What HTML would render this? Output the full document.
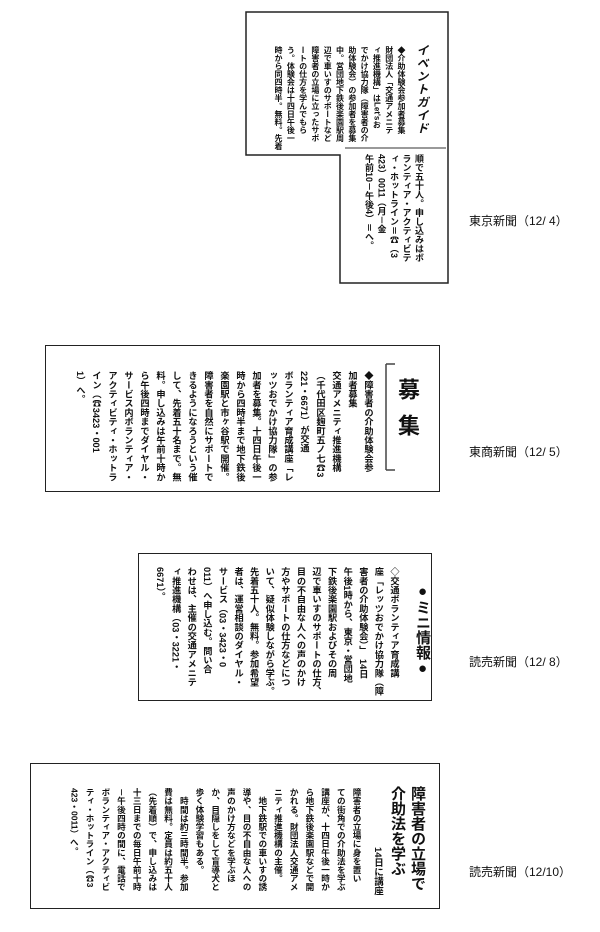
<!DOCTYPE html>
<html><head><meta charset="utf-8"><style>
body{margin:0;width:600px;height:932px;background:#fff;position:relative;overflow:hidden;font-family:"Liberation Sans","Noto Sans CJK JP",sans-serif;color:#111}
.v{position:absolute;writing-mode:vertical-rl;white-space:nowrap;font-weight:bold}
.b{position:absolute;border:1.5px solid #222;box-sizing:border-box}
.lab{position:absolute;font-size:12px;color:#111;font-family:"Liberation Sans","Noto Sans CJK JP",sans-serif}
</style></head><body>
<svg style="position:absolute;left:0;top:0" width="600" height="932">
<polygon points="246,12 448,12 448,283 340,283 340,155 246,155" fill="none" stroke="#222" stroke-width="1.5"/>
<line x1="345" y1="148" x2="446" y2="148" stroke="#333" stroke-width="1"/>
<line x1="386" y1="364" x2="386" y2="470" stroke="#444" stroke-width="1.5"/>
<line x1="386" y1="364" x2="395" y2="364" stroke="#444" stroke-width="1.5"/>
<line x1="386" y1="470" x2="395" y2="470" stroke="#444" stroke-width="1.5"/>
</svg>
<div class="v" style="right:170px;top:44px;font-size:12px;font-style:italic;line-height:16px;letter-spacing:1px">イベントガイド</div>
<div class="v" style="right:193px;top:46px;font-size:8px;line-height:12.3px">◆介助体験会参加者募集<br>財団法人「交通アメニテ<br>ィ推進機構」はLet'sお<br>でかけ協力隊（障害者の介<br>助体験会）の参加者を募集<br>中。営団地下鉄後楽園駅周<br>辺で車いすのサポートなど<br>障害者の立場に立ったサポ<br>ートの仕方を学んでもら<br>う。体験会は十四日午後一<br>時から同四時半。無料。先着</div>
<div class="v" style="right:175px;top:154px;font-size:9px;line-height:12.5px">順で五十人。申し込みはボ<br>ランティア・アクティビテ<br>ィ・ホットライン＝☎（3<br>423）0011（月－金<br>午前10－午後4）＝へ。</div>

<div class="b" style="left:45px;top:345px;width:395px;height:147px"></div>
<div class="v" style="right:180px;top:378px;font-size:22px;line-height:26px;letter-spacing:14px">募集</div>
<div class="v" style="right:224px;top:371px;font-size:9.2px;line-height:16px">◆障害者の介助体験会参<br>加者募集<br>交通アメニティ推進機構<br>（千代田区麹町五ノ七☎3<br>221・6671）が交通<br>ボランティア育成講座「レ<br>ッツおでかけ協力隊」の参<br>加者を募集。十四日午後一<br>時から四時半まで地下鉄後<br>楽園駅と市ヶ谷駅で開催。<br>障害者を自然にサポートで<br>きるようになろうという催<br>して、先着五十名まで。無<br>料。申し込みは午前十時か<br>ら午後四時までダイヤル・<br>サービス内ボランティア・<br>アクティビティ・ホットラ<br>イン（☎3423・001<br>1）へ。</div>

<div class="b" style="left:138px;top:553px;width:294px;height:148px"></div>
<div class="v" style="right:168px;top:583px;font-size:15px;line-height:20px">●ミニ情報●</div>
<div class="v" style="right:199px;top:567px;font-size:9.2px;line-height:15.6px">◇交通ボランティア育成講<br>座「レッツおでかけ協力隊（障<br>害者の介助体験会）」　14日<br>午後1時から、東京・営団地<br>下鉄後楽園駅およびその周<br>辺で車いすのサポートの仕方、<br>目の不自由な人への声のかけ<br>方やサポートの仕方などにつ<br>いて、疑似体験しながら学ぶ。<br>先着五十人。無料。参加希望<br>者は、運営相談のダイヤル・<br>サービス（03・3423・0<br>011）へ申し込む。問い合<br>わせは、主催の交通アメニテ<br>ィ推進機構（03・3221・<br>6671）。</div>

<div class="b" style="left:30px;top:763px;width:410px;height:146px"></div>
<div class="v" style="right:173px;top:786px;font-size:15px;line-height:20px">障害者の立場で<br>介助法を学ぶ</div>
<div class="v" style="right:217px;top:847px;font-size:9.5px;line-height:12px">14日に講座</div>
<div class="v" style="right:236px;top:788px;font-size:8.6px;line-height:15.7px">障害者の立場に身を置い<br>ての街角での介助法を学ぶ<br>講座が、十四日午後一時か<br>ら地下鉄後楽園駅などで開<br>かれる。財団法人交通アメ<br>ニティ推進機構の主催。<br>　地下鉄駅での車いすの誘<br>導や、目の不自由な人への<br>声のかけ方などを学ぶほ<br>か、目隠しをして盲導犬と<br>歩く体験学習もある。<br>　時間は約三時間半。参加<br>費は無料。定員は約五十人<br>（先着順）で、申し込みは<br>十三日までの毎日午前十時<br>－午後四時の間に、電話で<br>ボランティア・アクティビ<br>ティ・ホットライン（☎3<br>423・0011）へ。</div>

<div class="lab" style="left:469px;top:212px">東京新聞（12/ 4）</div>
<div class="lab" style="left:469px;top:443px">東商新聞（12/ 5）</div>
<div class="lab" style="left:469px;top:653px">読売新聞（12/ 8）</div>
<div class="lab" style="left:469px;top:863px">読売新聞（12/10）</div>
</body></html>
